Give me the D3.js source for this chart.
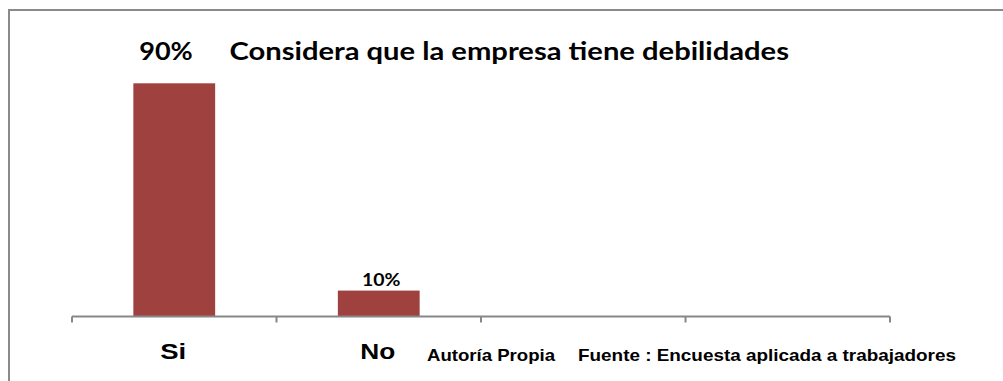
<!DOCTYPE html>
<html>
<head>
<meta charset="utf-8">
<script src="https://cdn.jsdelivr.net/npm/d3@7"></script>
<style>
  html, body { margin: 0; padding: 0; background: #fff; }
  svg { display: block; }
</style>
</head>
<body>
<svg id="chart" width="1003" height="381"></svg>
<script>
// ---- data ----
const categories = ["Si", "No", "c3", "c4"];
const tickLabels = ["Si", "No", "", ""];
const values = [90, 10, null, null];
const valueLabels = ["90%", "10%", "", ""];
const titleText = "Considera que la empresa tiene debilidades";
const noteAuthor = "Autoría Propia";
const noteSource = "Fuente : Encuesta aplicada a trabajadores";

// ---- layout ----
const svg = d3.select("#chart");
const axisY = 316.5;
const x = d3.scaleBand().domain(categories).range([72, 890]).paddingInner(0).paddingOuter(0);
const y = d3.scaleLinear().domain([0, 100]).range([axisY, axisY - 259.1]);
const barW = x.bandwidth() * 0.4;

// outer border (extends past right/bottom edges)
svg.append("rect")
  .attr("x", 9).attr("y", 10).attr("width", 1100).attr("height", 500)
  .attr("fill", "none").attr("stroke", "#8a8a8a").attr("stroke-width", 2);

// bars
const data = categories.map((c, i) => ({ c, v: values[i], lab: valueLabels[i], t: tickLabels[i] }))
  .filter(d => d.v != null);

svg.selectAll("rect.bar").data(data).enter().append("rect")
  .attr("class", "bar")
  .attr("x", d => x(d.c) + (x.bandwidth() - barW) / 2)
  .attr("y", d => y(d.v))
  .attr("width", barW)
  .attr("height", d => y(0) - y(d.v))
  .attr("fill", "#9e413f");

// x axis
const axis = d3.axisBottom(x).tickSize(0).tickFormat(() => "");
const gAxis = svg.append("g").attr("transform", `translate(0,${axisY})`).call(axis);
gAxis.select(".domain").attr("stroke", "#878787").attr("stroke-width", 2).attr("d", `M72,0H890`);
gAxis.selectAll(".tick").remove();
// tick marks at band boundaries
const bounds = categories.map(c => x(c)).concat([x.range()[1]]);
gAxis.selectAll("line.bt").data(bounds).enter().append("line")
  .attr("class", "bt")
  .attr("x1", d => d).attr("x2", d => d)
  .attr("y1", 0).attr("y2", 6)
  .attr("stroke", "#878787").attr("stroke-width", 2);

// category labels
svg.selectAll("text.cat").data(categories.map((c, i) => ({ c, t: tickLabels[i] })).filter(d => d.t))
  .enter().append("text")
  .attr("class", "cat")
  .attr("x", d => x(d.c) + x.bandwidth() / 2 - 1)
  .attr("y", 358.5)
  .attr("text-anchor", "middle")
  .attr("font-family", "'Liberation Sans', Arial, sans-serif")
  .attr("font-weight", "bold")
  .attr("font-size", 22)
  .attr("fill", "#000")
  .attr("textLength", d => d.t === "Si" ? 26 : 35)
  .attr("lengthAdjust", "spacingAndGlyphs")
  .text(d => d.t);

// value labels
svg.selectAll("text.val").data(data).enter().append("text")
  .attr("class", "val")
  .attr("x", (d, i) => i === 0 ? 166 : x(d.c) + x.bandwidth() / 2 + 2.5)
  .attr("y", (d, i) => i === 0 ? 60 : y(d.v) - 4.5)
  .attr("text-anchor", "middle")
  .attr("font-family", "Lato, 'Open Sans', sans-serif")
  .attr("font-weight", "bold")
  .attr("font-size", (d, i) => i === 0 ? 25 : 16.5)
  .attr("fill", "#000")
  .attr("textLength", (d, i) => i === 0 ? 53.5 : 38.5)
  .attr("lengthAdjust", "spacingAndGlyphs")
  .text(d => d.lab);

// title
svg.append("text")
  .attr("x", 229.5).attr("y", 60)
  .attr("font-family", "Lato, 'Open Sans', sans-serif")
  .attr("font-weight", "bold")
  .attr("font-size", 25)
  .attr("fill", "#000")
  .attr("textLength", 559.5)
  .attr("lengthAdjust", "spacingAndGlyphs")
  .text(titleText);

// footnotes
svg.append("text")
  .attr("x", 427).attr("y", 360.5)
  .attr("font-family", "'Liberation Sans', Arial, sans-serif")
  .attr("font-weight", "bold").attr("font-size", 16.5).attr("fill", "#000")
  .attr("textLength", 128).attr("lengthAdjust", "spacingAndGlyphs")
  .text(noteAuthor);
svg.append("text")
  .attr("x", 578).attr("y", 360.5)
  .attr("font-family", "'Liberation Sans', Arial, sans-serif")
  .attr("font-weight", "bold").attr("font-size", 16.5).attr("fill", "#000")
  .attr("textLength", 378).attr("lengthAdjust", "spacingAndGlyphs")
  .text(noteSource);
</script>
</body>
</html>
